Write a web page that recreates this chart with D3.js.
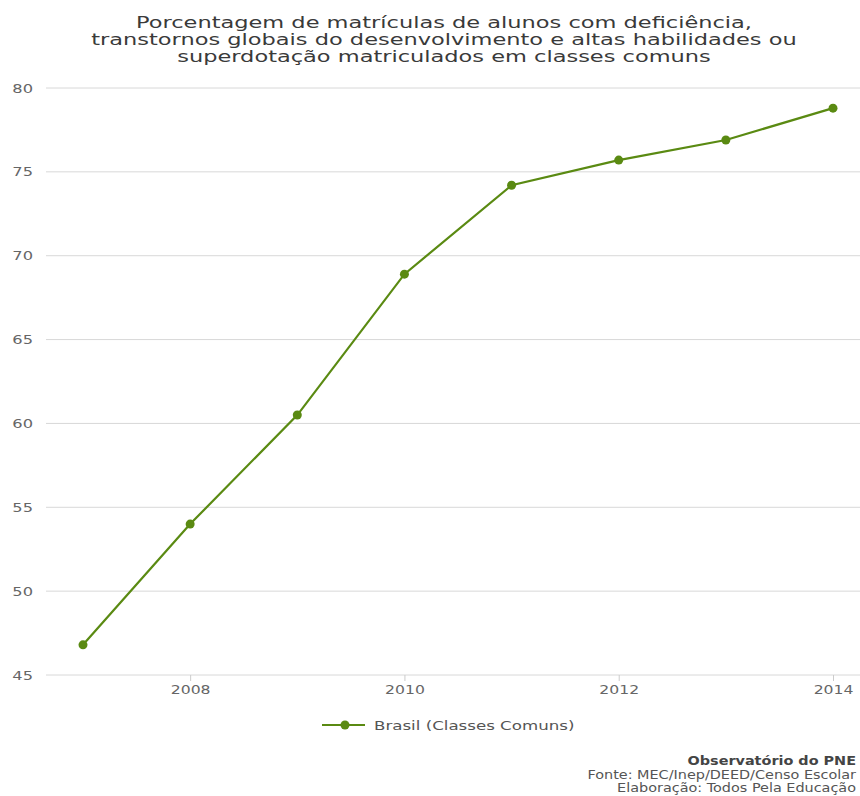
<!DOCTYPE html>
<html><head><meta charset="utf-8">
<script src="https://cdn.jsdelivr.net/npm/d3@7"></script>
<style>body{margin:0;background:#fff;} svg{display:block;font-family:"DejaVu Sans",sans-serif;}</style>
</head><body>
<svg id="c" width="860" height="796"></svg>
<script>
const years = [2007, 2008, 2009, 2010, 2011, 2012, 2013, 2014];
const values = [46.8, 54.0, 60.5, 68.9, 74.2, 75.7, 76.9, 78.8];
const yTicks = [45, 50, 55, 60, 65, 70, 75, 80];
const xTicks = [2008, 2010, 2012, 2014];
const titleLines = ["Porcentagem de matrículas de alunos com deficiência,",
  "transtornos globais do desenvolvimento e altas habilidades ou",
  "superdotação matriculados em classes comuns"];
const seriesName = "Brasil (Classes Comuns)";
const footer = ["Observatório do PNE", "Fonte: MEC/Inep/DEED/Censo Escolar", "Elaboração: Todos Pela Educação"];

const svg = d3.select("#c");
const green = "#5a8a12";
const x = d3.scaleLinear().domain([2007, 2014]).range([83, 833]);
const y = d3.scaleLinear().domain([45, 80]).range([675, 88]);
const left = 46, right = 860;

// the reference's lettering is horizontally wide; widen glyphs
function widen(sel, f) {
  sel.each(function () {
    const w = this.getComputedTextLength();
    d3.select(this).attr("textLength", w * f).attr("lengthAdjust", "spacingAndGlyphs");
  });
}

const tt = svg.append("g").selectAll("text").data(titleLines).join("text")
  .attr("x", 444).attr("y", (d, i) => 28 + i * 17)
  .attr("text-anchor", "middle").attr("fill", "#3a3a3a").attr("font-size", 15.5).text(d => d);
widen(tt, 1.45);

// grid
svg.append("g").selectAll("line").data(yTicks).join("line")
  .attr("x1", left).attr("x2", right).attr("y1", d => y(d)).attr("y2", d => y(d))
  .attr("stroke", "#d8d8d8").attr("stroke-width", 1);
const yl = svg.append("g").selectAll("text").data(yTicks).join("text")
  .attr("x", 33).attr("y", d => y(d) + 4.5).attr("text-anchor", "end")
  .attr("fill", "#666").attr("font-size", 12.5).text(d => d);
widen(yl, 1.3);

// x axis
const xa = svg.append("g").attr("transform", `translate(0,${y(45)})`)
  .call(d3.axisBottom(x).tickValues(xTicks).tickFormat(d3.format("d")).tickSize(6).tickPadding(4));
xa.select(".domain").remove();
xa.selectAll("line").attr("stroke", "#ccc");
xa.selectAll("text").attr("fill", "#666").attr("font-size", 12.5).attr("font-family", "DejaVu Sans");
widen(xa.selectAll("text"), 1.25);

// line
const line = d3.line().x((d, i) => x(years[i])).y(d => y(d));
svg.append("path").datum(values).attr("d", line).attr("fill", "none")
  .attr("stroke", green).attr("stroke-width", 2.2);
svg.append("g").selectAll("circle").data(values).join("circle")
  .attr("cx", (d, i) => x(years[i])).attr("cy", d => y(d)).attr("r", 4.5).attr("fill", green);

// legend
const lg = svg.append("g").attr("transform", "translate(322,725)");
lg.append("line").attr("x1", 0).attr("x2", 43).attr("stroke", green).attr("stroke-width", 2.2);
lg.append("circle").attr("cx", 23).attr("r", 4.5).attr("fill", green);
const lt = lg.append("text").attr("x", 52).attr("y", 4.5).attr("fill", "#555").attr("font-size", 13).text(seriesName);
widen(lt, 1.28);

// footer
const ft = svg.append("g").selectAll("text").data(footer).join("text")
  .attr("x", 856).attr("y", (d, i) => 765 + i * 13.5).attr("text-anchor", "end")
  .attr("fill", (d, i) => i === 0 ? "#444" : "#555")
  .attr("font-weight", (d, i) => i === 0 ? "bold" : "normal")
  .attr("font-size", 12).text(d => d);
widen(ft, 1.2);
</script>
</body></html>
